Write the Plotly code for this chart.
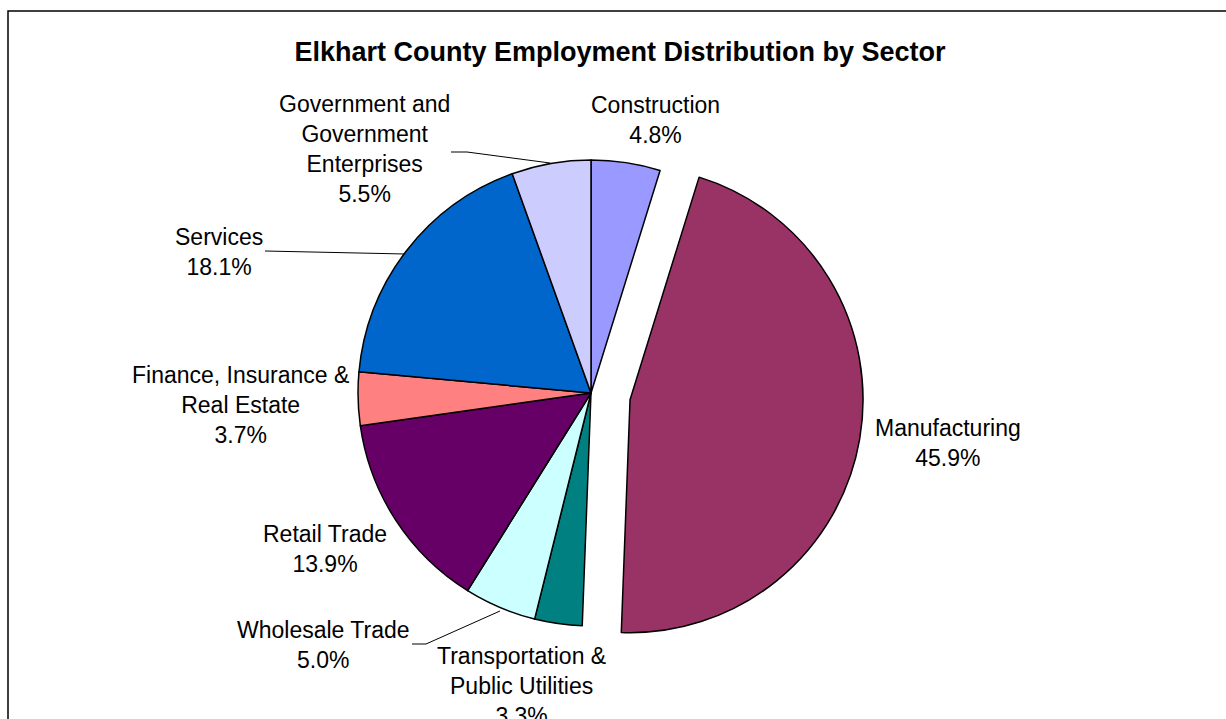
import plotly.graph_objects as go

# ---- data ----
sectors = ["Construction", "Manufacturing", "Transportation &\nPublic Utilities",
           "Wholesale Trade", "Retail Trade", "Finance, Insurance &\nReal Estate",
           "Services", "Government and\nGovernment\nEnterprises"]
shares = [4.8, 45.9, 3.3, 5.0, 13.9, 3.7, 18.1, 5.5]
colors = ["#9999FF", "#993366", "#008080", "#CCFFFF", "#660066", "#FF8080",
          "#0066CC", "#CCCCFF"]
pulls = [0, 0.17, 0, 0, 0, 0, 0, 0]

W, H = 1226, 719
# label text-block centres (pixels), layout only
label_pos = [(655, 120), (948, 443), (521, 686), (323, 645), (325, 549),
             (240, 405), (219, 252), (364, 149)]
# leader lines (pixel polylines), layout only
leaders = [
    [(451, 152), (467, 152), (550, 163)],
    [(265, 251), (405, 254)],
    [(412, 644), (426, 644), (500, 611)],
]

def px(x):
    return x / W

def py(y):
    return 1 - y / H

cx, cy, r = 591, 393, 233
box = 2 * r * (1 + max(pulls))
dom_x = [px(cx - box / 2), px(cx + box / 2)]
dom_y = [py(cy + box / 2), py(cy - box / 2)]

FONT = "Liberation Sans, Arial, sans-serif"

fig = go.Figure(go.Pie(
    labels=[s.replace("\n", " ") for s in sectors],
    values=shares,
    sort=False,
    direction="clockwise",
    rotation=0,
    pull=pulls,
    marker=dict(colors=colors, line=dict(color="black", width=1.5)),
    textinfo="none",
    hoverinfo="label+percent",
    domain=dict(x=dom_x, y=dom_y),
    showlegend=False,
))

annotations = []
for name, val, (lx, ly) in zip(sectors, shares, label_pos):
    text = name.replace("\n", "<br>") + "<br>" + f"{val:.1f}%"
    annotations.append(dict(
        x=px(lx), y=py(ly), xref="paper", yref="paper",
        text=text, showarrow=False, xanchor="center", yanchor="middle",
        align="center",
        font=dict(family=FONT, size=23, color="black"),
    ))

shapes = [dict(type="rect", xref="paper", yref="paper",
               x0=px(8), x1=px(W + 20), y0=py(H + 20), y1=py(11),
               line=dict(color="black", width=1.5), fillcolor="rgba(0,0,0,0)")]
for pts in leaders:
    for (x0, y0), (x1, y1) in zip(pts[:-1], pts[1:]):
        shapes.append(dict(type="line", xref="paper", yref="paper",
                           x0=px(x0), y0=py(y0), x1=px(x1), y1=py(y1),
                           line=dict(color="black", width=1)))

fig.update_layout(
    width=W, height=H,
    margin=dict(l=0, r=0, t=0, b=0),
    paper_bgcolor="white", plot_bgcolor="white",
    title=dict(text="<b>Elkhart County Employment Distribution by Sector</b>",
               x=620 / W, xanchor="center", y=py(52), yanchor="middle",
               font=dict(family=FONT, size=27, color="black")),
    annotations=annotations,
    shapes=shapes,
)

fig.write_html("out.html",
               config={"displayModeBar": False},
               post_script="document.body.style.margin='0';document.body.style.overflow='hidden';")
